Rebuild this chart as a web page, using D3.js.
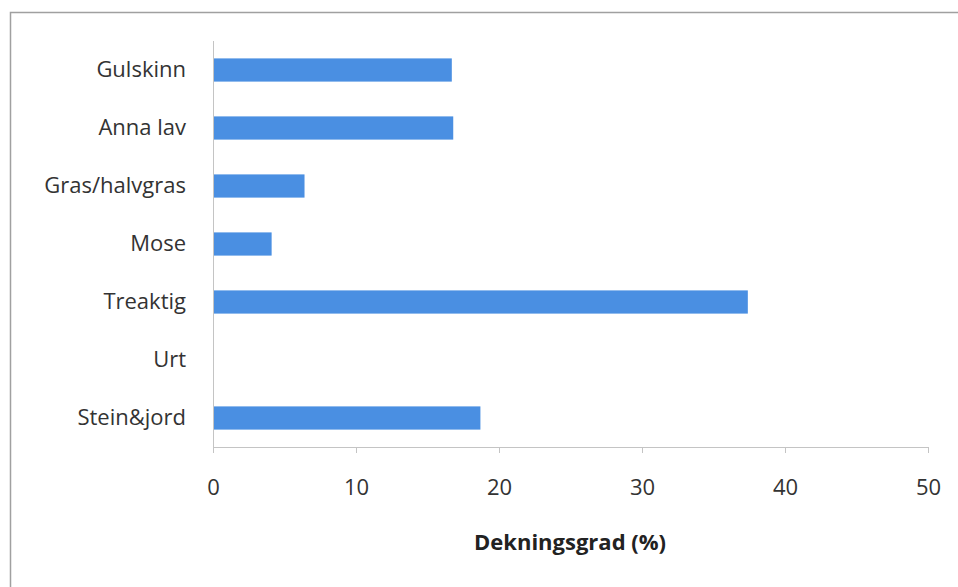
<!DOCTYPE html>
<html>
<head>
<meta charset="utf-8">
<script src="https://cdn.jsdelivr.net/npm/d3@7"></script>
<style>
  body { margin: 0; background: #fff; }
  svg { display: block; font-family: "Open Sans", Lato, sans-serif; }
</style>
</head>
<body>
<svg id="chart" width="958" height="587"></svg>
<script>
// ── Data ──────────────────────────────────────────────────────────────────
const categories = ["Gulskinn", "Anna lav", "Gras/halvgras", "Mose", "Treaktig", "Urt", "Stein&jord"];
const coverValues = [16.7, 16.8, 6.4, 4.1, 37.4, 0, 18.7];
const xTicks = [0, 10, 20, 30, 40, 50];
const xTitle = "Dekningsgrad (%)";

const data = categories.map((c, i) => ({ name: c, value: coverValues[i] }));

// ── Layout ────────────────────────────────────────────────────────────────
const svg = d3.select("#chart");
const plot = { left: 213, right: 928, top: 41, bottom: 447 };

// chart frame
svg.append("rect")
  .attr("x", 10.5).attr("y", 12.5)
  .attr("width", 960).attr("height", 620)
  .attr("fill", "none")
  .attr("stroke", "#a0a0a0")
  .attr("stroke-width", 1.5);

const x = d3.scaleLinear().domain([0, 50]).range([plot.left, plot.right]);
const y = d3.scaleBand().domain(categories).range([plot.top, plot.bottom]).paddingInner(0.6).paddingOuter(0.3);

// ── Bars ──
svg.append("g")
  .selectAll("rect")
  .data(data)
  .join("rect")
  .attr("x", x(0))
  .attr("y", (d) => y(d.name))
  .attr("width", (d) => x(d.value) - x(0))
  .attr("height", y.bandwidth())
  .attr("fill", "#4a8fe2");

// ── X axis ──
const xAxis = svg.append("g")
  .attr("transform", `translate(0,${plot.bottom})`)
  .call(d3.axisBottom(x).tickValues(xTicks).tickSize(6).tickPadding(26).tickFormat(d3.format("d")));
xAxis.select(".domain").attr("stroke", "#c4c4c4").attr("d", `M${plot.left},0.5H${plot.right}`);
xAxis.selectAll(".tick line").attr("stroke", "#c4c4c4");
xAxis.selectAll("text")
  .attr("font-size", 22)
  .attr("fill", "#333")
  .attr("font-family", "'Open Sans', sans-serif");

// ── Y axis ──
const yAxis = svg.append("g")
  .attr("transform", `translate(${plot.left},0)`)
  .call(d3.axisLeft(y).tickSize(0).tickPadding(27));
yAxis.select(".domain").attr("stroke", "#c4c4c4").attr("d", `M0.5,${plot.top}V${plot.bottom + 6}`);
yAxis.selectAll("text")
  .attr("font-size", 22)
  .attr("fill", "#333")
  .attr("font-family", "'Open Sans', sans-serif");

// ── Axis title ──
svg.append("text")
  .attr("x", 570)
  .attr("y", 550)
  .attr("text-anchor", "middle")
  .attr("font-size", 22)
  .attr("font-weight", "bold")
  .attr("fill", "#222")
  .attr("font-family", "'Open Sans', sans-serif")
  .text(xTitle);
</script>
</body>
</html>
